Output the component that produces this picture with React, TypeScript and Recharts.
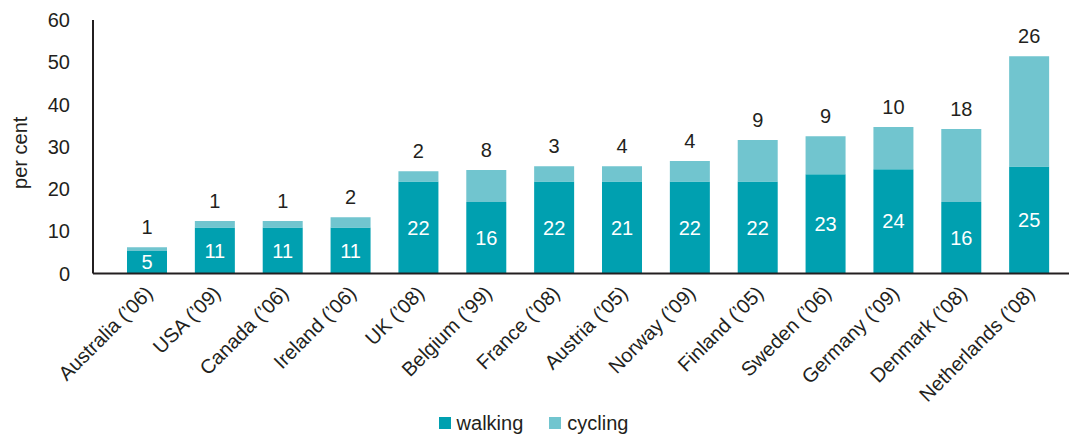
import React from 'react';
import { BarChart, Bar, XAxis, YAxis, Legend, LabelList, Label } from 'recharts';

const categories = [
  "Australia (’06)", "USA (’09)", "Canada (’06)", "Ireland (’06)", "UK (’08)", "Belgium (’99)",
  "France (’08)", "Austria (’05)", "Norway (’09)", "Finland (’05)", "Sweden (’06)", "Germany (’09)",
  "Denmark (’08)", "Netherlands (’08)",
];
const walking = [5.3, 10.9, 10.9, 10.9, 21.8, 16.9, 21.8, 21.8, 21.8, 21.8, 23.5, 24.7, 16.9, 25.3];
const cycling = [0.9, 1.5, 1.5, 2.4, 2.4, 7.6, 3.6, 3.6, 4.8, 9.8, 9.0, 10.0, 17.3, 26.1];
const walkingLabels = ["5", "11", "11", "11", "22", "16", "22", "21", "22", "22", "23", "24", "16", "25"];
const cyclingLabels = ["1", "1", "1", "2", "2", "8", "3", "4", "4", "9", "9", "10", "18", "26"];
const yTicks = [0, 10, 20, 30, 40, 50, 60];
const legendOrder = ["walking", "cycling"];

const data = categories.map((c, i) => ({
  name: c,
  walking: walking[i],
  cycling: cycling[i],
  walkingLabel: walkingLabels[i],
  cyclingLabel: cyclingLabels[i],
}));

const WALK = '#00A0B0';
const CYCLE = '#71C5CF';
const TEXT = '#231F20';
const FONT = '"Liberation Sans", Arial, Helvetica, sans-serif';

const XTick = (props: any) => {
  const { x, y, payload } = props;
  const bx = x + 7;
  const by = y + 13;
  return (
    <text x={bx} y={by} transform={`rotate(-45, ${bx}, ${by})`} textAnchor="end" fontSize={20} fill={TEXT} fontFamily={FONT}>
      {payload.value}
    </text>
  );
};

const LegendContent = (props: any) => {
  const payload = [...(props.payload || [])].sort(
    (a: any, b: any) => legendOrder.indexOf(a.value) - legendOrder.indexOf(b.value)
  );
  return (
    <div style={{ display: 'flex', justifyContent: 'center', alignItems: 'center', gap: 26, fontFamily: FONT, fontSize: 20, color: TEXT, height: 24, marginLeft: -2 }}>
      {payload.map((p: any) => (
        <div key={p.value} style={{ display: 'flex', alignItems: 'center' }}>
          <span style={{ display: 'inline-block', width: 12, height: 12, background: p.color, marginRight: 6 }} />
          <span>{p.value}</span>
        </div>
      ))}
    </div>
  );
};

export default function App() {
  return (
    <div style={{ position: 'absolute', left: 0, top: 0, width: 1069, height: 435, background: '#fff', fontFamily: FONT }}>
      <BarChart width={1069} height={435} data={data} margin={{ top: 20, right: 0, bottom: 0, left: 0 }}>
        <XAxis
          dataKey="name"
          interval={0}
          height={137.5}
          padding={{ left: 20, right: 6 }}
          tickLine={false}
          axisLine={{ stroke: TEXT, strokeWidth: 2 }}
          tick={<XTick />}
        />
        <YAxis
          width={93}
          domain={[0, 60]}
          ticks={yTicks}
          interval={0}
          tickLine={false}
          tickMargin={17}
          axisLine={{ stroke: TEXT, strokeWidth: 2 }}
          tick={{ fontSize: 20, fill: TEXT, fontFamily: FONT }}
        >
          <Label value="per cent" angle={-90} position="center" dx={-27} dy={6} style={{ fontSize: 20, fill: TEXT, fontFamily: FONT }} />
        </YAxis>
        <Legend verticalAlign="bottom" height={24} wrapperStyle={{ bottom: 0 }} content={<LegendContent />} />
        <Bar dataKey="walking" name="walking" stackId="a" fill={WALK} barSize={40} isAnimationActive={false}>
          <LabelList dataKey="walkingLabel" position="center" fill="#ffffff" fontSize={20} fontFamily={FONT} />
        </Bar>
        <Bar dataKey="cycling" name="cycling" stackId="a" fill={CYCLE} barSize={40} isAnimationActive={false}>
          <LabelList dataKey="cyclingLabel" position="top" offset={13} fill={TEXT} fontSize={20} fontFamily={FONT} />
        </Bar>
      </BarChart>
    </div>
  );
}
